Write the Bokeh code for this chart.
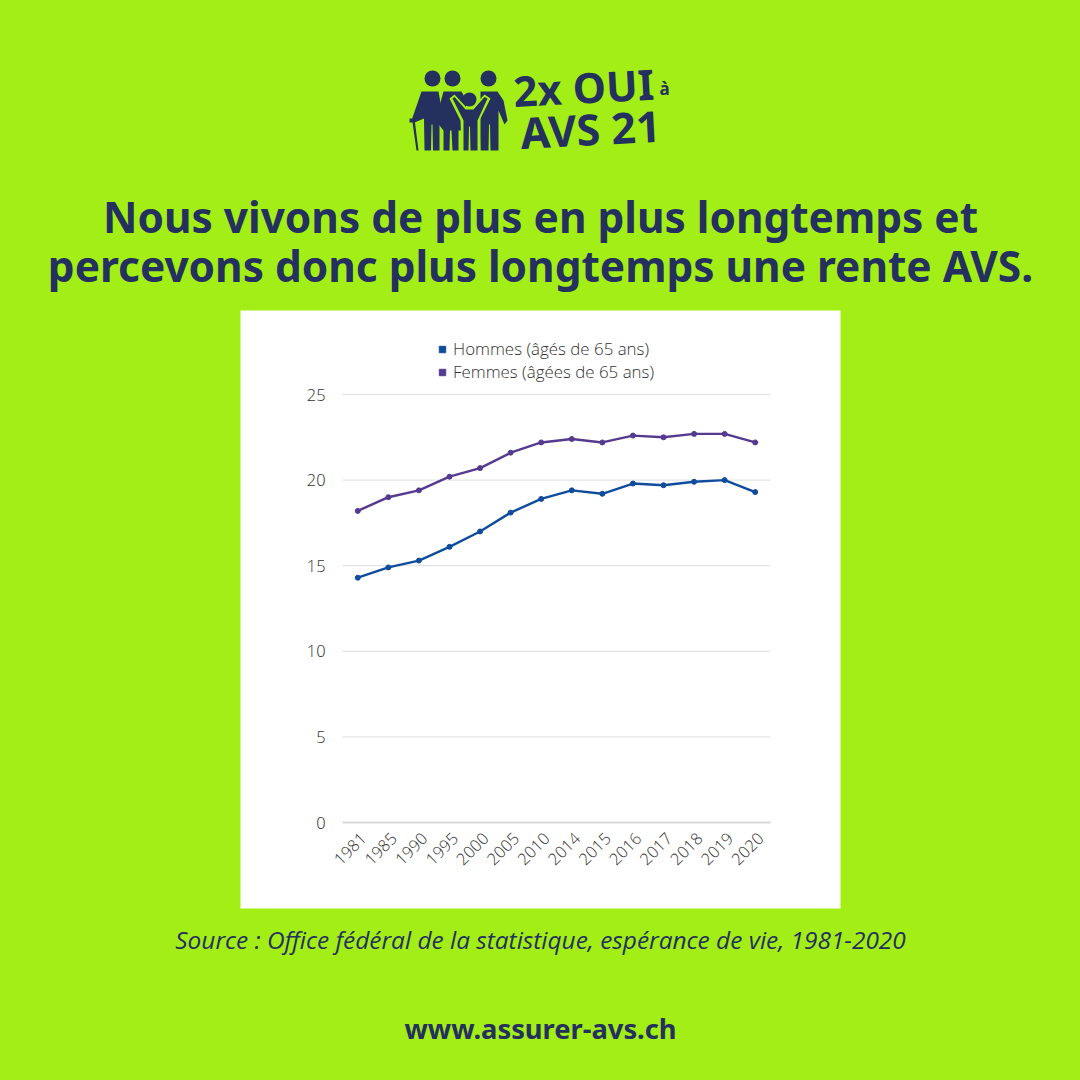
from math import pi
from bokeh.plotting import figure
from bokeh.embed import file_html
from bokeh.resources import INLINE
from bokeh.models import (Label, BoxAnnotation, PolyAnnotation, Legend, LegendItem, LinearAxis, FixedTicker,
                          Range1d, GlobalInlineStyleSheet)

years = ["1981","1985","1990","1995","2000","2005","2010","2014","2015","2016","2017","2018","2019","2020"]
hommes = [14.3,14.9,15.3,16.1,17.0,18.1,18.9,19.4,19.2,19.8,19.7,19.9,20.0,19.3]
femmes = [18.2,19.0,19.4,20.2,20.7,21.6,22.2,22.4,22.2,22.6,22.5,22.7,22.7,22.2]
y_ticks = [0,5,10,15,20,25]
label_h = "Hommes (âgés de 65 ans)"
label_f = "Femmes (âgées de 65 ans)"
title_1 = "Nous vivons de plus en plus longtemps et"
title_2 = "percevons donc plus longtemps une rente AVS."
source = "Source : Office fédéral de la statistique, espérance de vie, 1981-2020"
url = "www.assurer-avs.ch"

GREEN = "#a3ee17"
NAVY = "#24305e"
BLUE = "#0f4c9c"
PURPLE = "#553a8f"
LIGHT_FONT = "'Open Sans Light', 'Open Sans'"
S = 1080
FL, FT, FR, FB = 342, 394, 770, 822
wx = (FR-FL)/len(years)
wy = (FB-FT)/25
idx = list(range(len(years)))
tick_shift = 0.18
tick_pos = [i+tick_shift for i in idx]

p = figure(width=S, height=S, output_backend="svg", toolbar_location=None,
           x_range=Range1d(-FL/wx-0.5,(S-FL)/wx-0.5), y_range=Range1d(-(S-FB)/wy,FB/wy),
           x_axis_location=None, y_axis_location=None, min_border=0,
           border_fill_color=GREEN, background_fill_color=None, outline_line_color=None)
p.grid.visible=False
p.stylesheets = [GlobalInlineStyleSheet(css=f"html,body{{background:{GREEN};overflow:hidden}}")]

def X(x): return x
def Y(y): return S-y

def box(l,t,r,b,color,radius=0,level="annotation"):
    p.add_layout(BoxAnnotation(left=X(l),right=X(r),top=Y(t),bottom=Y(b),left_units="screen",right_units="screen",
        top_units="screen",bottom_units="screen",fill_color=color,fill_alpha=1,line_color=None,level=level,
        border_radius=radius))
def poly(pts,color=NAVY):
    p.add_layout(PolyAnnotation(xs=[X(a) for a,_ in pts],ys=[Y(b) for _,b in pts],xs_units="screen",ys_units="screen",
        fill_color=color,fill_alpha=1,line_color=None))
def text(x,y,s,size,font="Noto Sans",style="normal",color=NAVY,align="left",angle=0):
    p.add_layout(Label(x=X(x),y=Y(y),x_units="screen",y_units="screen",text=s,text_font=font,text_font_size=f"{size}px",
        text_font_style=style,text_color=color,text_align=align,text_baseline="middle",angle=angle,angle_units="deg"))

box(240,310,840,908,"#ffffff",level="image")

# grid lines and axes, bounded to the plot region
grid_ys=y_ticks[1:]
p.segment(x0=[-0.5]*len(grid_ys),x1=[len(years)-0.5]*len(grid_ys),y0=grid_ys,y1=grid_ys,color="#dedede",line_width=1)
xax=LinearAxis(fixed_location=0,ticker=FixedTicker(ticks=tick_pos),major_label_overrides={t:y for t,y in zip(tick_pos,years)},
               bounds=(-0.5,len(years)-0.5))
yax=LinearAxis(fixed_location=-0.5,ticker=FixedTicker(ticks=y_ticks),bounds=(0,25))
xax.major_label_orientation=pi/4
xax.major_label_standoff=7
yax.major_label_standoff=11
xax.axis_line_color="#d9d9d9"; xax.axis_line_width=2
yax.axis_line_color=None
for ax in (xax,yax):
    ax.major_tick_line_color=None; ax.minor_tick_line_color=None
    ax.major_label_text_font=LIGHT_FONT; ax.major_label_text_font_size="16.4px"; ax.major_label_text_color="#333333"
p.add_layout(xax,"below")
p.add_layout(yax,"left")

p.line(idx,hommes,color=BLUE,line_width=2.4)
p.line(idx,femmes,color=PURPLE,line_width=2.4)
p.scatter(idx,hommes,color=BLUE,size=5)
p.scatter(idx,femmes,color=PURPLE,size=5)
lh=p.scatter(x=[idx[0]],y=[float("nan")],marker="square",color=BLUE)
lf=p.scatter(x=[idx[0]],y=[float("nan")],marker="square",color=PURPLE)
leg=Legend(items=[LegendItem(label=label_h,renderers=[lh]),LegendItem(label=label_f,renderers=[lf])],
    location=(434,S-383),border_line_color=None,background_fill_alpha=0,
    label_text_font=LIGHT_FONT,label_text_font_size="16.9px",label_text_color="#333333",
    glyph_width=16,glyph_height=16,spacing=-6,padding=0,margin=0,label_standoff=3,label_height=20)
p.add_layout(leg,"center")

# titles
text(540,216,title_1,42.4,style="bold",align="center")
text(540,265,title_2,42.4,style="bold",align="center")
text(540,939,source,24.4,font="Open Sans",style="italic",align="center")
text(540,1028,url,27.3,style="bold",align="center")

# logo
text(513,90,"2x OUI",42,style="bold",angle=3)
text(520,132,"AVS 21",43,style="bold",angle=3)
text(664,88,"à",17,style="bold",align="center")
for cx,cy,r in [(432,78,8),(452,78,8),(488,78,8)]:
    box(cx-r,cy-r,cx+r,cy+r,NAVY,radius=r)
# left man and cane
poly([(421,91),(438,91),(441,108),(439,122),(439,150),(432.5,150),(432,124),(431,124),(430.5,150),(424,150),(423.5,118),(414,122),(411,120)])
poly([(409,118),(414,118),(418,150),(416,150),(412,122),(409,122)])
# woman
poly([(443,91),(461,91),(466,100),(464,130),(458,130),(458,150),(452,150),(451,130),(449.5,130),(449,150),(443,150),(443,130),(435,120)])
# right man
poly([(480,91),(497,91),(503,100),(507,120),(504,124),(498,110),(498,150),(490,150),(489.5,124),(488.5,124),(488,150),(480,150),(480,110)])
# green halo and child with raised arms
poly([(449,98),(454,94),(466,107),(472,107),(484,94),(490,98),(479,120),(480,151),(461,151),(460,120)],GREEN)
poly([(452,98),(454,96.5),(465,109),(473,109),(484,96.5),(487,98),(477,120),(477,150),(470,150),(469.5,126),(468.5,126),(468,150),(463,150),(463,120)])
box(462,92,476,106,NAVY,radius=7)
open("out.html","w").write(file_html(p,INLINE))
